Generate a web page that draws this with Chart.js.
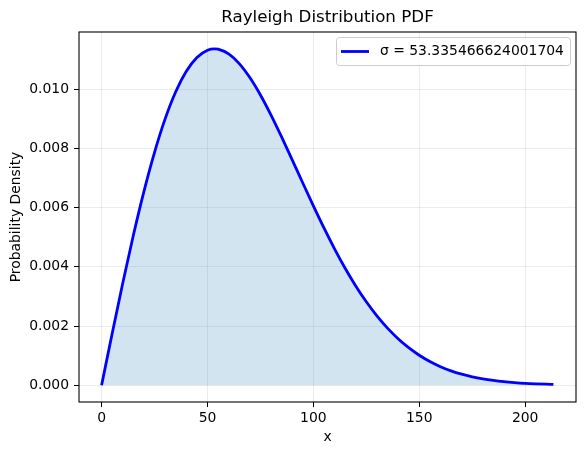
<!DOCTYPE html>
<html>
<head>
<meta charset="utf-8">
<script src="https://cdn.jsdelivr.net/npm/chart.js@4/dist/chart.umd.min.js"></script>
<style>
  body { margin: 0; background: #fff; }
</style>
</head>
<body>
<canvas id="myChart" width="584" height="455"></canvas>
<script>
/*-------------------------
data
--------------------------*/
var titleText = "Rayleigh Distribution PDF";
var sigmaLabel = "σ = 53.335466624001704";
var xValues = [0, 5, 10, 15, 20, 25, 30, 35, 40, 45, 50, 53.34, 55, 60, 65, 70, 75, 80, 85, 90, 95,
  100, 105, 110, 115, 120, 125, 130, 135, 140, 145, 150, 155, 160, 165, 170, 175, 180, 185, 190,
  195, 200, 205, 210, 213.34];
var pdfValues = [0, 0.001750, 0.003454, 0.005069, 0.006554, 0.007874, 0.009003, 0.009921, 0.010614,
  0.011082, 0.011327, 0.011372, 0.011361, 0.011203, 0.010874, 0.010400, 0.009810, 0.009131,
  0.008392, 0.007619, 0.006836, 0.006062, 0.005316, 0.004610, 0.003954, 0.003356, 0.002819,
  0.002343, 0.001928, 0.001570, 0.001266, 0.001011, 0.000799, 0.000625, 0.000484, 0.000372,
  0.000283, 0.000213, 0.000159, 0.000117, 0.000086, 0.000062, 0.000045, 0.000032, 0.000025];
var xTicks = [0, 50, 100, 150, 200];
var yTicks = [0, 0.002, 0.004, 0.006, 0.008, 0.010];

var points = xValues.map(function (x, i) {
  return { x: x, y: pdfValues[i] };
});

var FONT = "'DejaVu Sans', sans-serif";
var gridColor = "rgba(176,176,176,0.3)";

// frame, title over the axes, legend box like matplotlib
var framePlugin = {
  id: "frame",
  afterDraw: function (chart) {
    var c = chart.ctx;
    var a = chart.chartArea;
    c.save();
    c.strokeStyle = "#000";
    c.lineWidth = 1.1;
    c.strokeRect(a.left, a.top, a.right - a.left, a.bottom - a.top);

    c.fillStyle = "#000";
    c.font = "16.7px " + FONT;
    c.textAlign = "center";
    c.textBaseline = "middle";
    c.fillText(titleText, (a.left + a.right) / 2, 18);

    // legend
    var bx = 336, by = 37, bw = 234, bh = 28;
    c.fillStyle = "rgba(255,255,255,0.8)";
    c.strokeStyle = "#cccccc";
    c.lineWidth = 1;
    c.beginPath();
    c.roundRect(bx + 0.5, by + 0.5, bw, bh, 3);
    c.fill();
    c.stroke();
    c.strokeStyle = "blue";
    c.lineWidth = 2.8;
    c.beginPath();
    c.moveTo(bx + 5, by + 14.5);
    c.lineTo(bx + 33, by + 14.5);
    c.stroke();
    c.fillStyle = "#000";
    c.font = "13.9px " + FONT;
    c.textBaseline = "middle";
    c.textAlign = "left";
    c.fillText(sigmaLabel, bx + 44, by + 14.5);
    c.restore();
  }
};

var ctx = document.getElementById("myChart").getContext("2d");
var myChart = new Chart(ctx, {
  type: "line",
  data: {
    datasets: [{
      label: sigmaLabel,
      data: points,
      borderColor: "blue",
      borderWidth: 2.8,
      backgroundColor: "rgba(31,119,180,0.2)",
      fill: "origin",
      pointRadius: 0,
      cubicInterpolationMode: "monotone"
    }]
  },
  plugins: [framePlugin],
  options: {
    responsive: false,
    animation: false,
    layout: { padding: { left: 0, right: 8, top: 32, bottom: 0 } },
    plugins: {
      legend: { display: false },
      tooltip: { enabled: false },
      title: { display: false }
    },
    scales: {
      x: {
        type: "linear",
        min: -10.67,
        max: 224.01,
        afterBuildTicks: function (scale) {
          scale.ticks = xTicks.map(function (v) { return { value: v }; });
        },
        afterFit: function (scale) { scale.height = 53; },
        grid: { color: gridColor, lineWidth: 0.8, tickColor: "#000", tickLength: 5, tickWidth: 1 },
        border: { display: false },
        ticks: {
          color: "#000",
          font: { family: FONT, size: 13.9 },
          padding: 3,
          maxRotation: 0,
          callback: function (v) { return String(v); }
        },
        title: {
          display: true,
          text: "x",
          color: "#000",
          font: { family: FONT, size: 13.9 },
          padding: { top: 0, bottom: 9 }
        }
      },
      y: {
        type: "linear",
        min: -0.000569,
        max: 0.011941,
        afterBuildTicks: function (scale) {
          scale.ticks = yTicks.map(function (v) { return { value: v }; });
        },
        afterFit: function (scale) { scale.width = 79; },
        grid: { color: gridColor, lineWidth: 0.8, tickColor: "#000", tickLength: 5, tickWidth: 1 },
        border: { display: false },
        ticks: {
          color: "#000",
          font: { family: FONT, size: 13.9 },
          padding: 5,
          callback: function (v) { return v.toFixed(3); }
        },
        title: {
          display: true,
          text: "Probability Density",
          color: "#000",
          font: { family: FONT, size: 13.9 },
          padding: { top: 8, bottom: 0 }
        }
      }
    }
  }
});
</script>
</body>
</html>
